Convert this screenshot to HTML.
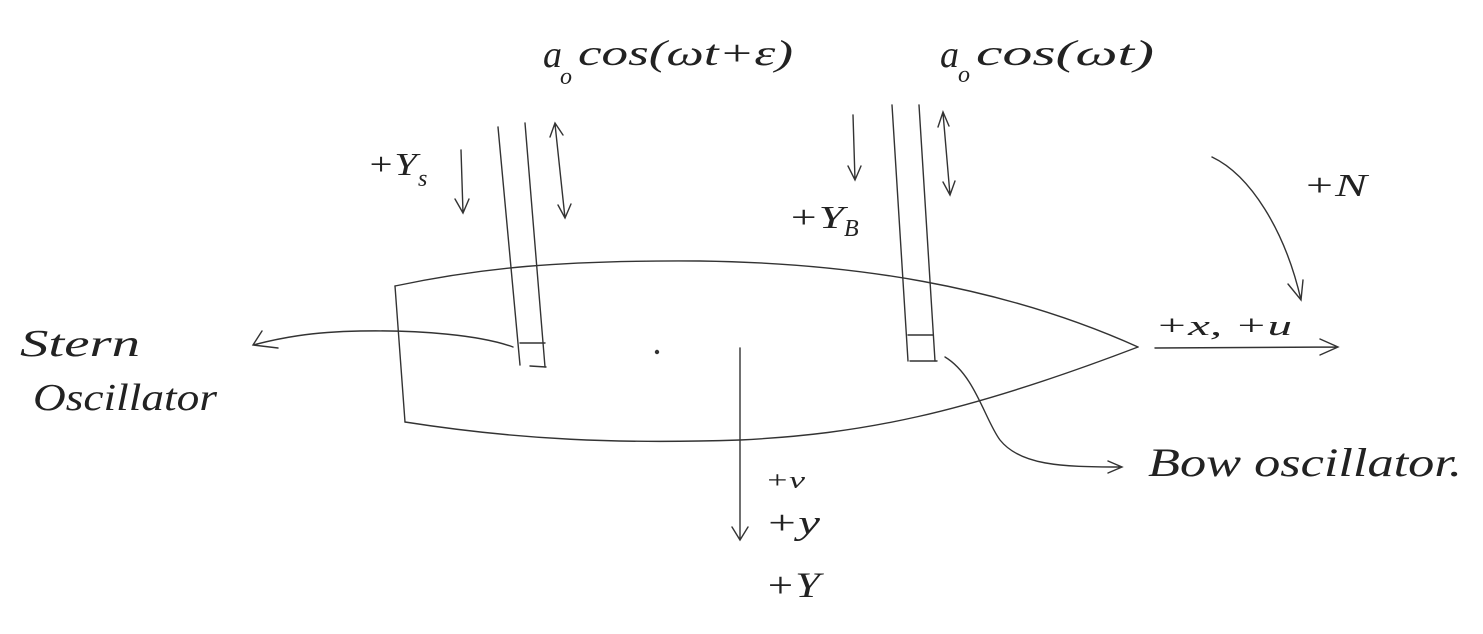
<!DOCTYPE html>
<html><head><meta charset="utf-8"><style>
html,body{margin:0;padding:0;background:#fff;}
svg{display:block}
text{font-family:"Liberation Serif",serif;font-style:italic;fill:#222;}
</style></head><body>
<svg width="1483" height="634" viewBox="0 0 1483 634" xmlns="http://www.w3.org/2000/svg">
<g fill="none" stroke="#333" stroke-width="1.4" stroke-linecap="round">
<!-- hull -->
<path d="M395,286 L405,422"/>
<path d="M395,286 C480,268 560,260 700,261 C850,263 1000,285 1138,347"/>
<path d="M405,422 C520,440 620,444 740,440 C860,434 960,415 1138,347"/>
<!-- stern strut -->
<path d="M498,127 L520,365"/>
<path d="M525,123 L545,367"/>
<path d="M520,343 L545,343"/>
<path d="M530,366 L546,367"/>
<!-- bow strut -->
<path d="M892,105 L908,361"/>
<path d="M919,105 L935,361"/>
<path d="M908,335 L933,335"/>
<path d="M910,361 L937,361"/>
<!-- arrows -->
<path d="M461,150 L463,213 M455,199 L463,213 L469,199"/>
<path d="M555,124 L565,218 M550,137 L555,123 L563,135 M558,205 L565,218 L571,204"/>
<path d="M853,115 L855,180 M848,166 L855,180 L861,166"/>
<path d="M943,113 L950,195 M938,127 L943,112 L949,126 M943,182 L950,195 L955,181"/>
<!-- Heading arrow -->
<path d="M1155,348 L1338,347 M1320,339 L1338,347 L1320,355"/>
<!-- N curve -->
<path d="M1212,157 C1250,175 1285,230 1301,300 M1288,284 L1301,300 L1303,280"/>
<!-- centre -->
<circle cx="657" cy="352" r="1.5" fill="#333"/>
<path d="M740,348 L740,540 M732,527 L740,540 L748,527"/>
<!-- stern callout -->
<path d="M513,347 C480,335 420,330 360,331 C310,332 280,338 253,345 M262,331 L253,345 L278,348"/>
<!-- bow callout -->
<path d="M945,357 C975,375 985,420 1000,440 C1020,465 1060,467 1120,467 M1108,461 L1122,467 L1108,473"/>
</g>
<text x="543" y="67" font-size="38">a</text>
<text x="560" y="84" font-size="24">o</text>
<text x="578" y="65" font-size="36" textLength="215" lengthAdjust="spacingAndGlyphs">cos(ωt+ε)</text>
<text x="940" y="67" font-size="38">a</text>
<text x="958" y="82" font-size="24">o</text>
<text x="976" y="65" font-size="36" textLength="178" lengthAdjust="spacingAndGlyphs">cos(ωt)</text>
<text x="367" y="175" font-size="32" textLength="50" lengthAdjust="spacingAndGlyphs">+Y</text>
<text x="418" y="186" font-size="24">s</text>
<text x="788" y="228" font-size="32" textLength="56" lengthAdjust="spacingAndGlyphs">+Y</text>
<text x="844" y="236" font-size="24">B</text>
<text x="1303" y="196" font-size="32" textLength="64" lengthAdjust="spacingAndGlyphs">+N</text>
<text x="1155" y="335" font-size="28" textLength="137" lengthAdjust="spacingAndGlyphs">+x, +u</text>
<text x="20" y="356" font-size="38" textLength="120" lengthAdjust="spacingAndGlyphs">Stern</text>
<text x="33" y="410" font-size="38" textLength="184" lengthAdjust="spacingAndGlyphs">Oscillator</text>
<text x="1148" y="476" font-size="40" textLength="314" lengthAdjust="spacingAndGlyphs">Bow oscillator.</text>
<text x="765" y="488" font-size="24" textLength="40" lengthAdjust="spacingAndGlyphs">+v</text>
<text x="765" y="534" font-size="34" textLength="55" lengthAdjust="spacingAndGlyphs">+y</text>
<text x="765" y="597" font-size="36" textLength="55" lengthAdjust="spacingAndGlyphs">+Y</text>
</svg>
</body></html>
